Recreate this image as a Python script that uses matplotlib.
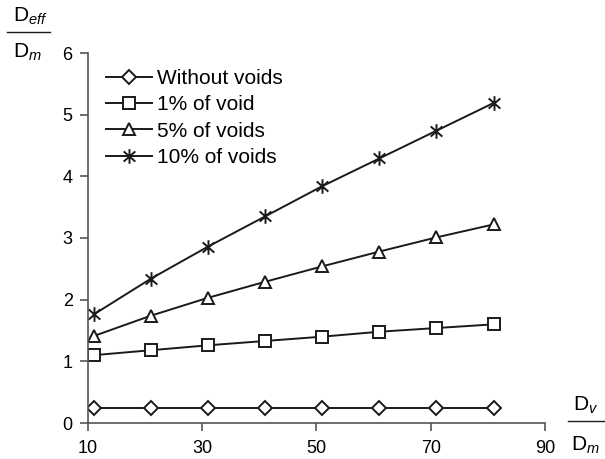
import matplotlib
matplotlib.use('Agg')
import matplotlib.pyplot as plt
from matplotlib.path import Path
import numpy as np

plt.rcParams['font.family'] = ['Liberation Sans', 'DejaVu Sans']
plt.rcParams['mathtext.fontset'] = 'custom'
plt.rcParams['mathtext.rm'] = 'Liberation Sans'
plt.rcParams['mathtext.it'] = 'Liberation Sans:italic'

x = [11, 21, 31, 41, 51, 61, 71, 81]
without_voids = [0.25, 0.25, 0.25, 0.25, 0.25, 0.25, 0.25, 0.25]
void_1 = [1.10, 1.18, 1.26, 1.33, 1.40, 1.48, 1.54, 1.60]
voids_5 = [1.41, 1.74, 2.03, 2.29, 2.54, 2.78, 3.01, 3.22]
voids_10 = [1.76, 2.34, 2.86, 3.35, 3.84, 4.29, 4.74, 5.19]

labels = ['Without voids', '1% of void', '5% of voids', '10% of voids']
xticks = [10, 30, 50, 70, 90]
yticks = [0, 1, 2, 3, 4, 5, 6]

# asterisk marker: vertical bar plus an X
star = Path([(0, -1), (0, 1), (-0.8, -0.7), (0.8, 0.7), (-0.8, 0.7), (0.8, -0.7)],
            [Path.MOVETO, Path.LINETO, Path.MOVETO, Path.LINETO, Path.MOVETO, Path.LINETO])

W, H = 605, 459
fig = plt.figure(figsize=(W / 100, H / 100), dpi=100)
ax = fig.add_axes([88 / W, 1 - 423 / H, (545 - 88) / W, (423 - 53) / H])

col = '#1a1a1a'
kw = dict(color=col, lw=1.4, mfc='white', mec=col, mew=1.4)
ax.plot(x, without_voids, marker='D', ms=7, label=labels[0], **kw)
ax.plot(x, void_1, marker='s', ms=8.5, label=labels[1], **kw)
ax.plot(x, voids_5, marker='^', ms=8.5, label=labels[2], **kw)
ax.plot(x, voids_10, marker=star, ms=10.5, label=labels[3], **kw)

ax.set_xlim(10, 90)
ax.set_ylim(0, 6)
ax.set_xticks(xticks)
ax.set_yticks(yticks)
ax.spines['top'].set_visible(False)
ax.spines['right'].set_visible(False)
for s in ['left', 'bottom']:
    ax.spines[s].set_color('#555555')
    ax.spines[s].set_linewidth(1.2)
ax.tick_params(direction='out', length=6, width=1.2, color='#555555', labelsize=13)
ax.tick_params(axis='x', pad=6)
ax.tick_params(axis='y', pad=5)

leg = ax.legend(loc='upper left', bbox_to_anchor=((106 - 88) / 457, (423 - 69) / 370),
                frameon=False, fontsize=15, handlelength=2.2, handletextpad=0.25,
                labelspacing=0.35, borderpad=0, borderaxespad=0)

# y axis label as a fraction
fig.text(13 / W, 1 - 16 / H, r'D$_{\mathit{eff}}$', fontsize=15, va='center', ha='left')
fig.add_artist(plt.Line2D([7 / W, 50 / W], [1 - 32 / H, 1 - 32 / H], color=col, lw=1.0))
fig.text(13 / W, 1 - 52 / H, r'D$_{\mathit{m}}$', fontsize=15, va='center', ha='left')

# x axis label as a fraction
fig.text(573 / W, 1 - 405 / H, r'D$_{\mathit{v}}$', fontsize=15, va='center', ha='left')
fig.add_artist(plt.Line2D([568 / W, 604 / W], [1 - 421 / H, 1 - 421 / H], color=col, lw=1.0))
fig.text(571 / W, 1 - 445 / H, r'D$_{\mathit{m}}$', fontsize=15, va='center', ha='left')

fig.savefig('out.png', dpi=100)
